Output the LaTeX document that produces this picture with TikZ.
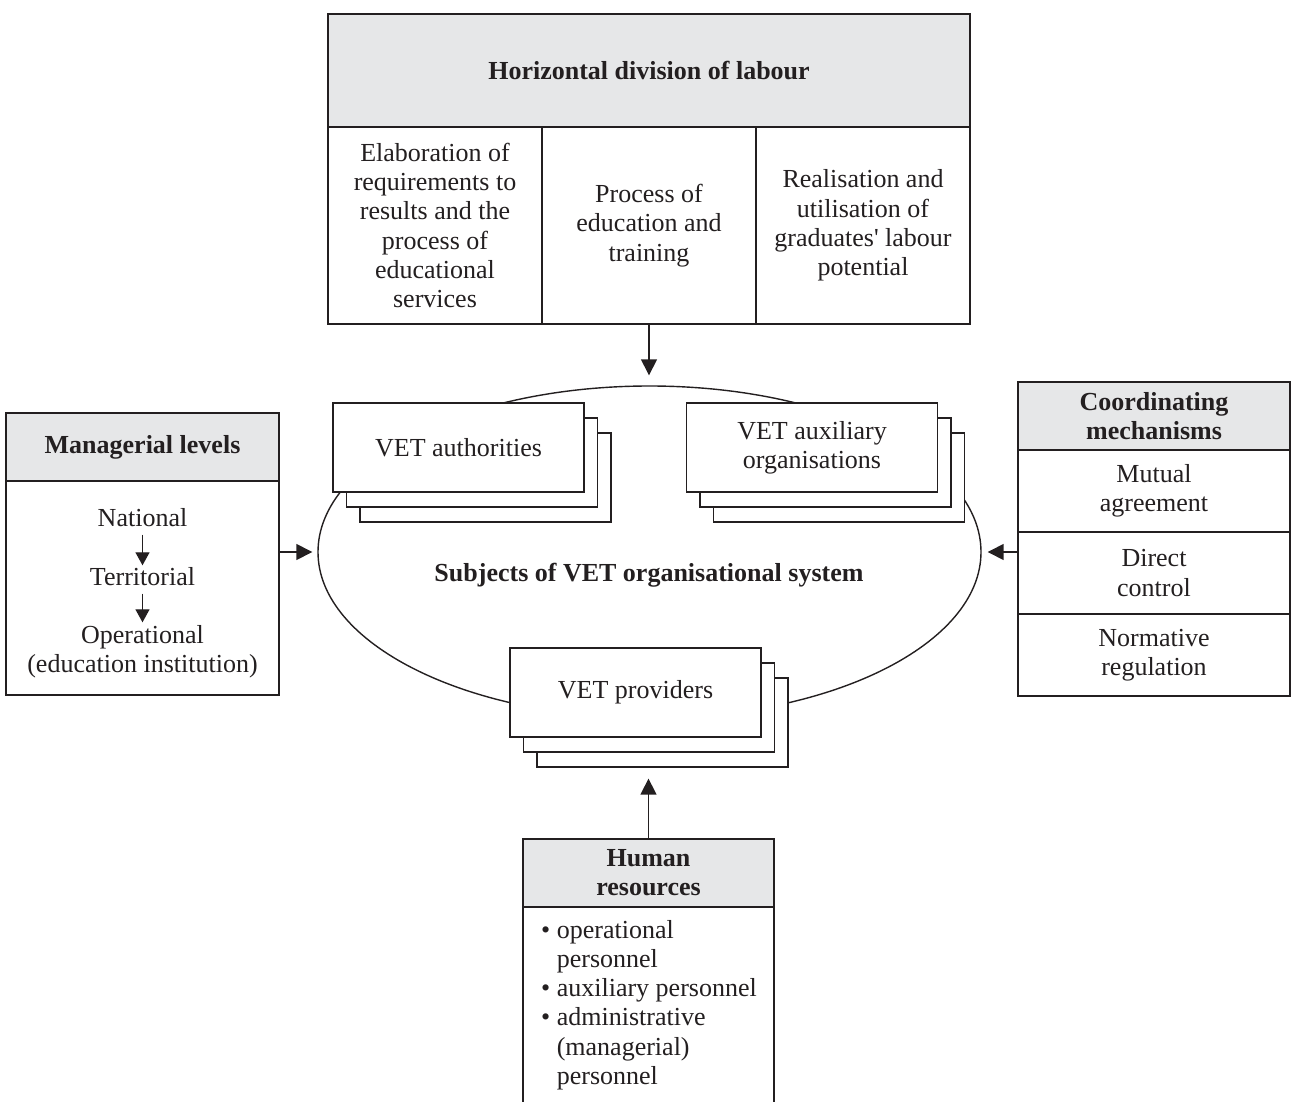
\documentclass[tikz,border=0pt]{standalone}
\usepackage{fontspec}
\setmainfont{Liberation Serif}
\usetikzlibrary{arrows.meta,shapes.geometric}
\definecolor{hdrgray}{HTML}{E6E7E8}
\definecolor{ink}{HTML}{231F20}

\begin{document}
\begin{tikzpicture}[x=1pt,y=-1pt,
  every node/.style={font=\fontsize{26}{29.2}\selectfont, inner sep=0pt, text=ink},
  box/.style={draw=ink, line width=1.3pt, fill=white, align=center},
  hdr/.style={box, fill=hdrgray, font=\fontsize{26}{29.2}\selectfont\bfseries},
  card/.style={box, minimum width=251pt, minimum height=89pt},
  lvl/.style={text height=18pt, text depth=6pt},
  arr/.style={draw=ink, line width=1.5pt, -{Triangle[length=16pt,width=16pt]}},
  smallarr/.style={draw=ink, line width=1.3pt, -{Triangle[length=13pt,width=14pt]}},
]
\useasboundingbox (0,0) rectangle (1291,1102);

% central system ellipse
\node[draw=ink, line width=1.4pt, ellipse, minimum width=663pt, minimum height=332pt] (sys) at (649.5,552) {};
\node[font=\fontsize{26}{29.2}\selectfont\bfseries] (systitle) at (649,575) {Subjects of VET organisational system};

% stacked subject cards
\node[card] (auth3) at (485.5,477.5) {};
\node[card] (auth2) at (472,462.5) {};
\node[card] (auth)  at (458.5,447.5) {VET authorities};

\node[card] (aux3) at (839,477.5) {};
\node[card] (aux2) at (825.5,462.5) {};
\node[card] (aux)  at (812,447.5) {VET auxiliary\\organisations};

\node[card] (prov3) at (662.5,722.5) {};
\node[card] (prov2) at (649,707.5) {};
\node[card] (prov)  at (635.5,692.5) {VET providers};

% horizontal division of labour
\node[hdr, minimum width=642pt, minimum height=113pt] (hdiv) at (649,70.5) {Horizontal division of labour};
\node[box, minimum width=214pt, minimum height=197pt] (c1) at (435,225.5)
  {Elaboration of\\requirements to\\results and the\\process of\\educational\\services};
\node[box, minimum width=214pt, minimum height=197pt] (c2) at (649,225.5)
  {Process of\\education and\\training};
\node[box, minimum width=214pt, minimum height=197pt] (c3) at (863,225.5)
  {Realisation and\\utilisation of\\graduates\textquotesingle{} labour\\potential};

% managerial levels
\node[box, minimum width=273pt, minimum height=214pt] (mgr) at (142.5,588) {};
\node[hdr, minimum width=273pt, minimum height=68pt] (mgrhead) at (142.5,447) {Managerial levels};
\node[lvl] (nat) at (142.5,520.5) {National};
\node[lvl] (ter) at (142.5,579.5) {Territorial};
\node[lvl] (ope) at (142.5,637.5) {Operational};
\node[lvl] (edu) at (142.5,666.5) {(education institution)};
\draw[smallarr, shorten <=2pt, shorten >=2pt] (nat) -- (ter);
\draw[smallarr, shorten <=2pt, shorten >=3pt] (ter) -- (ope);

% coordinating mechanisms
\node[hdr, minimum width=272pt, minimum height=68pt] (cohead) at (1154,416) {Coordinating\\mechanisms};
\node[box, minimum width=272pt, minimum height=82pt] (mutual) at (1154,491) {Mutual\\agreement};
\node[box, minimum width=272pt, minimum height=82pt] (direct) at (1154,573) {Direct\\control};
\node[box, minimum width=272pt, minimum height=82pt] (norm) at (1154,655) {Normative\\regulation};

% human resources
\node[box, minimum width=251pt, minimum height=203pt] (hrbody) at (648.5,1008.5) {};
\node[hdr, minimum width=251pt, minimum height=68pt] (hrhead) at (648.5,873) {Human\\resources};
\node[anchor=north west, align=left] (hrlist) at (541,920)
  {\textbullet\ operational\\\phantom{\textbullet\ }personnel\\
   \textbullet\ auxiliary personnel\\
   \textbullet\ administrative\\\phantom{\textbullet\ }(managerial)\\\phantom{\textbullet\ }personnel};

% influences on the system
\draw[arr, shorten >=10pt] (c2.south) -- (c2.south |- sys.north);
\draw[arr, shorten >=5pt] (mgr.east |- sys.west) -- (sys.west);
\draw[arr, shorten >=6pt] (direct.west |- sys.east) -- (sys.east);
\draw[arr, shorten >=11pt] (hrhead.north) -- (hrhead.north |- prov3.south);
\end{tikzpicture}
\end{document}
